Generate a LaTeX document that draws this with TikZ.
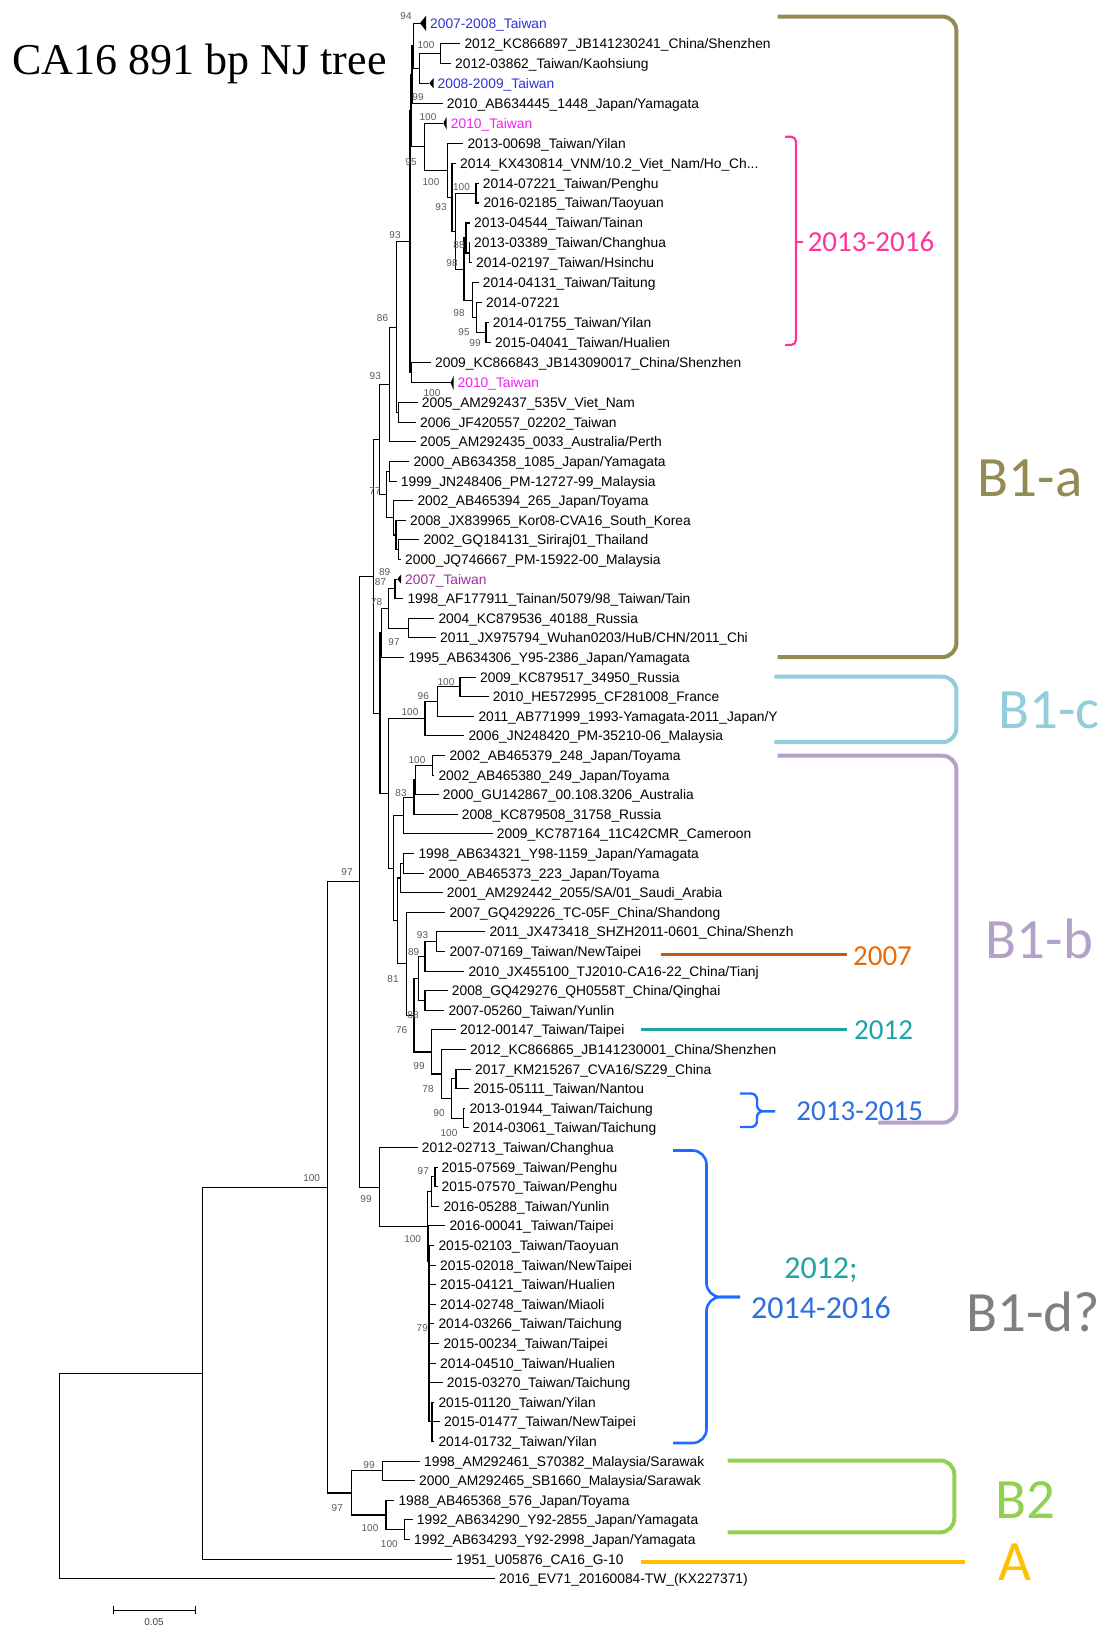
\documentclass[tikz,border=0pt]{standalone}
\usepackage{fontspec}
\setmainfont{Liberation Sans}
\newfontfamily\titlefont{Liberation Serif}
\newfontfamily\cladefont{Carlito}
\usetikzlibrary{calc}

\definecolor{olivebr}{HTML}{948A54}
\definecolor{aquabr}{HTML}{92CDDC}
\definecolor{lilacbr}{HTML}{B3A2C7}
\definecolor{greenbr}{HTML}{92D050}
\definecolor{goldbr}{HTML}{FFC000}
\definecolor{pinkbr}{HTML}{FF3399}
\definecolor{bluebr}{HTML}{1F6BFF}
\definecolor{bluetx}{HTML}{2E6FD8}
\definecolor{tealtx}{HTML}{21A3A3}
\definecolor{rustln}{HTML}{C55A11}
\definecolor{orangetx}{HTML}{E46C0A}
\definecolor{graytx}{HTML}{7F7F7F}
\definecolor{twblue}{HTML}{3030D8}
\definecolor{twmag}{HTML}{F020F0}
\definecolor{twpurp}{HTML}{9A309A}

\begin{document}
\begin{tikzpicture}[x=1pt, y=-1pt,
  leaf/.style={anchor=west, inner xsep=4pt, inner ysep=0pt, text height=9.8pt, text depth=0pt, font=\fontsize{13.8}{14}\selectfont},
  boot/.style={inner sep=0pt, text=black!65, font=\fontsize{10}{10}\selectfont},
  branch/.style={line width=1.1pt, black},
  clade/.style={inner sep=0pt, font=\cladefont\fontsize{57}{57}\selectfont},
  tag/.style={inner sep=0pt, font=\cladefont\fontsize{29}{29}\selectfont},
  bigtag/.style={inner sep=0pt, font=\cladefont\fontsize{32}{32}\selectfont},
  bracket/.style={line width=4pt, rounded corners=14pt},
  marker/.style={line width=2.6pt}
]
\useasboundingbox (0,0) rectangle (1104,1630);

\node[inner sep=0pt, font=\titlefont\fontsize{44}{44}\selectfont] (title) at (199.6,64.4) {CA16 891 bp NJ tree};

% leaves
\node[leaf, text=twblue] (L1) at (426,23.3) {2007-2008\_Taiwan};
\node[leaf] (L2) at (460.3,43.3) {2012\_KC866897\_JB141230241\_China/Shenzhen};
\node[leaf] (L3) at (451,63.3) {2012-03862\_Taiwan/Kaohsiung};
\node[leaf, text=twblue] (L4) at (433.5,83.2) {2008-2009\_Taiwan};
\node[leaf] (L5) at (442.7,103.2) {2010\_AB634445\_1448\_Japan/Yamagata};
\node[leaf, text=twmag] (L6) at (446.7,123.2) {2010\_Taiwan};
\node[leaf] (L7) at (463.3,143.1) {2013-00698\_Taiwan/Yilan};
\node[leaf] (L8) at (456,163.1) {2014\_KX430814\_VNM/10.2\_Viet\_Nam/Ho\_Ch...};
\node[leaf] (L9) at (478.7,183.1) {2014-07221\_Taiwan/Penghu};
\node[leaf] (L10) at (479.3,203.0) {2016-02185\_Taiwan/Taoyuan};
\node[leaf] (L11) at (470,223.0) {2013-04544\_Taiwan/Tainan};
\node[leaf] (L12) at (470,243.0) {2013-03389\_Taiwan/Changhua};
\node[leaf] (L13) at (472,262.9) {2014-02197\_Taiwan/Hsinchu};
\node[leaf] (L14) at (478.7,282.9) {2014-04131\_Taiwan/Taitung};
\node[leaf] (L15) at (482,302.9) {2014-07221};
\node[leaf] (L16) at (488.7,322.9) {2014-01755\_Taiwan/Yilan};
\node[leaf] (L17) at (491,342.8) {2015-04041\_Taiwan/Hualien};
\node[leaf] (L18) at (431,362.8) {2009\_KC866843\_JB143090017\_China/Shenzhen};
\node[leaf, text=twmag] (L19) at (453.5,382.8) {2010\_Taiwan};
\node[leaf] (L20) at (417.7,402.7) {2005\_AM292437\_535V\_Viet\_Nam};
\node[leaf] (L21) at (416,422.3) {2006\_JF420557\_02202\_Taiwan};
\node[leaf] (L22) at (416,441.9) {2005\_AM292435\_0033\_Australia/Perth};
\node[leaf] (L23) at (409.3,461.5) {2000\_AB634358\_1085\_Japan/Yamagata};
\node[leaf] (L24) at (396.7,481.1) {1999\_JN248406\_PM-12727-99\_Malaysia};
\node[leaf] (L25) at (413.3,500.7) {2002\_AB465394\_265\_Japan/Toyama};
\node[leaf] (L26) at (406,520.3) {2008\_JX839965\_Kor08-CVA16\_South\_Korea};
\node[leaf] (L27) at (419.3,539.9) {2002\_GQ184131\_Siriraj01\_Thailand};
\node[leaf] (L28) at (401,559.5) {2000\_JQ746667\_PM-15922-00\_Malaysia};
\node[leaf, text=twpurp] (L29) at (401,579.1) {2007\_Taiwan};
\node[leaf] (L30) at (403.3,598.7) {1998\_AF177911\_Tainan/5079/98\_Taiwan/Tain};
\node[leaf] (L31) at (434.3,618.3) {2004\_KC879536\_40188\_Russia};
\node[leaf] (L32) at (436,637.9) {2011\_JX975794\_Wuhan0203/HuB/CHN/2011\_Chi};
\node[leaf] (L33) at (404.3,657.5) {1995\_AB634306\_Y95-2386\_Japan/Yamagata};
\node[leaf] (L34) at (476,677.1) {2009\_KC879517\_34950\_Russia};
\node[leaf] (L35) at (488.7,696.7) {2010\_HE572995\_CF281008\_France};
\node[leaf] (L36) at (474.3,716.3) {2011\_AB771999\_1993-Yamagata-2011\_Japan/Y};
\node[leaf] (L37) at (464.3,735.9) {2006\_JN248420\_PM-35210-06\_Malaysia};
\node[leaf] (L38) at (445.3,755.5) {2002\_AB465379\_248\_Japan/Toyama};
\node[leaf] (L39) at (434.3,775.1) {2002\_AB465380\_249\_Japan/Toyama};
\node[leaf] (L40) at (438.7,794.7) {2000\_GU142867\_00.108.3206\_Australia};
\node[leaf] (L41) at (457.7,814.3) {2008\_KC879508\_31758\_Russia};
\node[leaf] (L42) at (492.7,833.9) {2009\_KC787164\_11C42CMR\_Cameroon};
\node[leaf] (L43) at (414.3,853.5) {1998\_AB634321\_Y98-1159\_Japan/Yamagata};
\node[leaf] (L44) at (424.3,873.1) {2000\_AB465373\_223\_Japan/Toyama};
\node[leaf] (L45) at (442.7,892.7) {2001\_AM292442\_2055/SA/01\_Saudi\_Arabia};
\node[leaf] (L46) at (445.3,912.3) {2007\_GQ429226\_TC-05F\_China/Shandong};
\node[leaf] (L47) at (485.3,931.9) {2011\_JX473418\_SHZH2011-0601\_China/Shenzh};
\node[leaf] (L48) at (445.3,951.5) {2007-07169\_Taiwan/NewTaipei};
\node[leaf] (L49) at (464.3,971.1) {2010\_JX455100\_TJ2010-CA16-22\_China/Tianj};
\node[leaf] (L50) at (447.7,990.7) {2008\_GQ429276\_QH0558T\_China/Qinghai};
\node[leaf] (L51) at (444.3,1010.3) {2007-05260\_Taiwan/Yunlin};
\node[leaf] (L52) at (456,1029.9) {2012-00147\_Taiwan/Taipei};
\node[leaf] (L53) at (466,1049.5) {2012\_KC866865\_JB141230001\_China/Shenzhen};
\node[leaf] (L54) at (471,1069.1) {2017\_KM215267\_CVA16/SZ29\_China};
\node[leaf] (L55) at (469.3,1088.7) {2015-05111\_Taiwan/Nantou};
\node[leaf] (L56) at (465.3,1108.3) {2013-01944\_Taiwan/Taichung};
\node[leaf] (L57) at (468.7,1127.9) {2014-03061\_Taiwan/Taichung};
\node[leaf] (L58) at (417.7,1147.5) {2012-02713\_Taiwan/Changhua};
\node[leaf] (L59) at (437.5,1167.1) {2015-07569\_Taiwan/Penghu};
\node[leaf] (L60) at (437.5,1186.7) {2015-07570\_Taiwan/Penghu};
\node[leaf] (L61) at (439.3,1206.3) {2016-05288\_Taiwan/Yunlin};
\node[leaf] (L62) at (445.3,1225.9) {2016-00041\_Taiwan/Taipei};
\node[leaf] (L63) at (434.3,1245.5) {2015-02103\_Taiwan/Taoyuan};
\node[leaf] (L64) at (436,1265.1) {2015-02018\_Taiwan/NewTaipei};
\node[leaf] (L65) at (436,1284.7) {2015-04121\_Taiwan/Hualien};
\node[leaf] (L66) at (436,1304.3) {2014-02748\_Taiwan/Miaoli};
\node[leaf] (L67) at (434.3,1323.9) {2014-03266\_Taiwan/Taichung};
\node[leaf] (L68) at (439.3,1343.5) {2015-00234\_Taiwan/Taipei};
\node[leaf] (L69) at (436,1363.1) {2014-04510\_Taiwan/Hualien};
\node[leaf] (L70) at (442.7,1382.7) {2015-03270\_Taiwan/Taichung};
\node[leaf] (L71) at (434.3,1402.3) {2015-01120\_Taiwan/Yilan};
\node[leaf] (L72) at (440,1421.9) {2015-01477\_Taiwan/NewTaipei};
\node[leaf] (L73) at (434.3,1441.5) {2014-01732\_Taiwan/Yilan};
\node[leaf] (L74) at (420,1461.1) {1998\_AM292461\_S70382\_Malaysia/Sarawak};
\node[leaf] (L75) at (415,1480.7) {2000\_AM292465\_SB1660\_Malaysia/Sarawak};
\node[leaf] (L76) at (394.3,1500.3) {1988\_AB465368\_576\_Japan/Toyama};
\node[leaf] (L77) at (412.7,1519.9) {1992\_AB634290\_Y92-2855\_Japan/Yamagata};
\node[leaf] (L78) at (410,1539.5) {1992\_AB634293\_Y92-2998\_Japan/Yamagata};
\node[leaf] (L79) at (452,1559.1) {1951\_U05876\_CA16\_G-10};
\node[leaf] (L80) at (495,1578.7) {2016\_EV71\_20160084-TW\_(KX227371)};

% collapsed clades (apex of triangle)
\coordinate (a1) at (420,23.3);
\coordinate (a4) at (429.3,83.2);
\coordinate (a6) at (443.3,123.2);
\coordinate (a19) at (450.7,382.8);
\coordinate (a29) at (397.3,579.1);
\fill (a1) -- ([yshift=7.5pt]L1.west) -- ([yshift=-7.5pt]L1.west) -- cycle;
\fill (a4) -- ([yshift=5pt]L4.west) -- ([yshift=-5pt]L4.west) -- cycle;
\fill (a6) -- ([yshift=6.5pt]L6.west) -- ([yshift=-6.5pt]L6.west) -- cycle;
\fill (a19) -- ([yshift=7pt]L19.west) -- ([yshift=-7pt]L19.west) -- cycle;
\fill (a29) -- ([yshift=4.5pt]L29.west) -- ([yshift=-4.5pt]L29.west) -- cycle;

% internal nodes
\coordinate (r0) at (59.3,1476);
\coordinate (nA) at (202.7,1373.2);
\coordinate (nB) at (327.4,1187.3);
\coordinate (nC) at (359.5,881.7);
\coordinate (nB1abc) at (373.3,576.4);
\coordinate (Q) at (379.3,439.5);
\coordinate (P93b) at (389.3,384.5);
\coordinate (P86) at (396.5,327.1);
\coordinate (P93a) at (410,241.7);
\coordinate (TC) at (411,110.6);
\coordinate (ub) at (412,74.5);
\coordinate (ua) at (413.5,45.8);
\coordinate (n234) at (419.3,68.3);
\coordinate (n23) at (440.7,53.3);
\coordinate (U2) at (424.3,146.7);
\coordinate (n717) at (447.7,170.1);
\coordinate (n817) at (452,197.1);
\coordinate (n917) at (455.5,231.1);
\coordinate (n910) at (476,193.1);
\coordinate (n1117) at (464,269.2);
\coordinate (n1113) at (466,238);
\coordinate (n1213) at (469.3,253);
\coordinate (n1417) at (472.7,300.4);
\coordinate (n1517) at (476.7,317.9);
\coordinate (n1617) at (486,332.9);
\coordinate (n1819) at (411.7,372.8);
\coordinate (n2021) at (398.5,412.5);
\coordinate (R) at (386.5,494.6);
\coordinate (n2324) at (389.3,471.3);
\coordinate (n2528) at (393.3,517.9);
\coordinate (n2628) at (396,535);
\coordinate (n2728) at (398.5,549.7);
\coordinate (nBbc) at (380,713.2);
\coordinate (n2933) at (381.7,633);
\coordinate (n2932) at (388.3,608.5);
\coordinate (n2930) at (395,588.9);
\coordinate (n3132) at (408.3,628.1);
\coordinate (Nbc) at (388.3,793.5);
\coordinate (nB1c) at (425,718.8);
\coordinate (n3436) at (437.3,701.6);
\coordinate (n3435) at (460,686.9);
\coordinate (nB1b) at (393.3,868.2);
\coordinate (n3842) at (403.3,815.5);
\coordinate (n3841) at (414,797.2);
\coordinate (n3840) at (415.5,780);
\coordinate (n3839) at (432.7,765.3);
\coordinate (nZ) at (397.3,920.9);
\coordinate (n4345) at (400.7,878);
\coordinate (n4344) at (403.3,863.3);
\coordinate (n4657) at (406.7,963.8);
\coordinate (n4757) at (414,1015.2);
\coordinate (n4751) at (418.3,978.5);
\coordinate (n4749) at (425,956.4);
\coordinate (n4748) at (436.7,941.7);
\coordinate (n5051) at (425,1000.5);
\coordinate (n5257) at (431.7,1052);
\coordinate (n5357) at (441.7,1074);
\coordinate (n5457) at (451.7,1098.5);
\coordinate (n5455) at (456,1078.9);
\coordinate (n5657) at (463.3,1118.1);
\coordinate (nB1d) at (379.3,1187.1);
\coordinate (nD2) at (427.3,1226.7);
\coordinate (n5961) at (431.7,1191.6);
\coordinate (n5960) at (435,1176.9);
\coordinate (nD2b) at (428.3,1261.8);
\coordinate (nD3) at (429,1297.7);
\coordinate (n7173) at (432,1421.9);
\coordinate (nB2) at (351.7,1493);
\coordinate (nB2a) at (382.3,1470.9);
\coordinate (nB2b) at (386,1515);
\coordinate (nB2c) at (404.3,1529.7);

% branches
\foreach \p/\c in {r0/nA, r0/L80.west, nA/nB, nA/L79.west, nB/nC, nB/nB2,
  nC/nB1abc, nC/nB1d, nB1abc/Q, nB1abc/nBbc, Q/P93b, Q/R,
  P93b/P86, P93b/L22.west, P86/P93a, P86/n2021, P93a/TC, P93a/n1819,
  TC/ub, TC/U2, ub/ua, ub/L5.west, ua/a1, ua/n234, n234/n23, n234/a4,
  n23/L2.west, n23/L3.west, U2/a6, U2/n717, n717/L7.west, n717/n817,
  n817/L8.west, n817/n917, n917/n910, n917/n1117, n910/L9.west, n910/L10.west,
  n1117/n1113, n1117/n1417, n1113/L11.west, n1113/n1213, n1213/L12.west, n1213/L13.west,
  n1417/L14.west, n1417/n1517, n1517/L15.west, n1517/n1617, n1617/L16.west, n1617/L17.west,
  n1819/L18.west, n1819/a19, n2021/L20.west, n2021/L21.west,
  R/n2324, R/n2528, n2324/L23.west, n2324/L24.west, n2528/L25.west, n2528/n2628,
  n2628/L26.west, n2628/n2728, n2728/L27.west, n2728/L28.west,
  nBbc/n2933, nBbc/Nbc, n2933/n2932, n2933/L33.west, n2932/n2930, n2932/n3132,
  n2930/a29, n2930/L30.west, n3132/L31.west, n3132/L32.west,
  Nbc/nB1c, Nbc/nB1b, nB1c/n3436, nB1c/L37.west, n3436/n3435, n3436/L36.west,
  n3435/L34.west, n3435/L35.west,
  nB1b/n3842, nB1b/nZ, n3842/n3841, n3842/L42.west, n3841/n3840, n3841/L41.west,
  n3840/n3839, n3840/L40.west, n3839/L38.west, n3839/L39.west,
  nZ/n4345, nZ/n4657, n4345/n4344, n4345/L45.west, n4344/L43.west, n4344/L44.west,
  n4657/L46.west, n4657/n4757, n4757/n4751, n4757/n5257, n4751/n4749, n4751/n5051,
  n4749/n4748, n4749/L49.west, n4748/L47.west, n4748/L48.west, n5051/L50.west, n5051/L51.west,
  n5257/L52.west, n5257/n5357, n5357/L53.west, n5357/n5457, n5457/n5455, n5457/n5657,
  n5455/L54.west, n5455/L55.west, n5657/L56.west, n5657/L57.west,
  nB1d/L58.west, nB1d/nD2, nD2/n5961, nD2/nD2b, n5961/n5960, n5961/L61.west,
  n5960/L59.west, n5960/L60.west, nD2b/L62.west, nD2b/nD3,
  nD3/L63.west, nD3/L64.west, nD3/L65.west, nD3/L66.west, nD3/L67.west,
  nD3/L68.west, nD3/L69.west, nD3/L70.west, nD3/n7173,
  n7173/L71.west, n7173/L72.west, n7173/L73.west,
  nB2/nB2a, nB2/nB2b, nB2a/L74.west, nB2a/L75.west, nB2b/L76.west, nB2b/nB2c,
  nB2c/L77.west, nB2c/L78.west}
  \draw[branch] (\p) |- (\c);

% bootstrap values
\node[boot] (bsL1) at (406,16) {94};
\node[boot] (bsn23) at (426,45) {100};
\node[boot] (bsL4) at (418,96.7) {99};
\node[boot] (bsL6) at (428,117.3) {100};
\node[boot] (bsU2) at (411,161.7) {95};
\node[boot] (bsn717) at (431,181.7) {100};
\node[boot] (bsn910) at (461.5,186.7) {100};
\node[boot] (bsn817) at (441,206.7) {93};
\node[boot] (bsn1213) at (459,245) {88};
\node[boot] (bsn1117) at (452,263.3) {98};
\node[boot] (bsn1417) at (459,313.3) {98};
\node[boot] (bsn1517) at (464,331.7) {95};
\node[boot] (bsn1617) at (475,343.3) {99};
\node[boot] (bsP93a) at (395,235) {93};
\node[boot] (bsP86) at (382.5,318) {86};
\node[boot] (bsP93b) at (375.3,376.3) {93};
\node[boot] (bsL19) at (432,392.7) {100};
\node[boot] (bsR) at (375,491) {77};
\node[boot] (bsL29) at (384.6,571.7) {89};
\node[boot] (bsn2930) at (380.5,581.7) {87};
\node[boot] (bsn2932) at (376.5,601.7) {78};
\node[boot] (bsn3132) at (394,641.7) {97};
\node[boot] (bsn3435) at (446,681.7) {100};
\node[boot] (bsn3436) at (423.3,696) {96};
\node[boot] (bsB1c) at (410,711.7) {100};
\node[boot] (bsn3839) at (417,760) {100};
\node[boot] (bsn3841) at (401,793.3) {83};
\node[boot] (bsn4748) at (422.5,935) {93};
\node[boot] (bsn4749) at (413.7,951.7) {89};
\node[boot] (bsn4657) at (393,979.3) {81};
\node[boot] (bsn5051) at (413,1015) {88};
\node[boot] (bsn4757) at (401.7,1030) {76};
\node[boot] (bsn5257) at (419,1066) {99};
\node[boot] (bsn5357) at (428,1089.3) {78};
\node[boot] (bsn5457) at (439,1113.3) {90};
\node[boot] (bsn5657) at (449,1132.7) {100};
\node[boot] (bsn5960) at (423.3,1170.7) {97};
\node[boot] (bsB1d) at (366,1199) {99};
\node[boot] (bsnD2) at (412.7,1239.3) {100};
\node[boot] (bsnD3) at (422.3,1328.3) {79};
\node[boot] (bsnC) at (347,872) {97};
\node[boot] (bsnB) at (311.7,1177.7) {100};
\node[boot] (bsB2a) at (369,1465) {99};
\node[boot] (bsB2) at (337.3,1508.3) {97};
\node[boot] (bsB2b) at (370,1528.3) {100};
\node[boot] (bsB2c) at (389.3,1544) {100};

% scale bar
\coordinate (sbl) at (113.3,1610);
\coordinate (sbr) at (195,1610);
\draw[line width=1pt] (sbl) -- (sbr);
\draw[line width=1pt] ([yshift=4pt]sbl) -- ([yshift=-4pt]sbl);
\draw[line width=1pt] ([yshift=4pt]sbr) -- ([yshift=-4pt]sbr);
\node[boot, text=black!75] (scalelbl) at (154,1622.5) {0.05};

% clade brackets and labels
\draw[bracket, olivebr] (777.5,16.6) -- (956.4,16.6) -- (956.4,657) -- (777.5,657);
\node[clade, text=olivebr] (cladeB1a) at (1030,478) {B1-a};
\draw[bracket, aquabr] (774.4,676.7) -- (956.4,676.7) -- (956.4,742.2) -- (774.4,742.2);
\node[clade, text=aquabr] (cladeB1c) at (1049,710) {B1-c};
\draw[bracket, lilacbr] (777.5,755.7) -- (956.4,755.7) -- (956.4,1122.7) -- (878.4,1122.7);
\node[clade, text=lilacbr] (cladeB1b) at (1039.5,938.7) {B1-b};
\node[clade, text=graytx] (cladeB1d) at (1033,1312) {B1-d?};
\draw[bracket, greenbr] (727.7,1460.5) -- (954.3,1460.5) -- (954.3,1532.3) -- (727.7,1532.3);
\node[clade, text=greenbr] (cladeB2) at (1025,1500) {B2};
\draw[line width=4pt, goldbr] (641.4,1562.4) -- (964.7,1562.4);
\node[clade, text=goldbr] (cladeA) at (1014.6,1562.4) {A};

% year groups
\draw[line width=2.2pt, pinkbr, rounded corners=5pt] (785,136.7) -- (796,136.7) -- (796,345) -- (785,345);
\draw[line width=2.2pt, pinkbr] (796,242.2) -- (803,242.2);
\node[tag, text=pinkbr] (yr1316) at (871,242.2) {2013-2016};
\draw[marker, rustln] (661,954.3) -- (847,954.3);
\node[tag, text=orangetx] (yr07) at (882.5,956.4) {2007};
\draw[marker, tealtx] (641.4,1029.5) -- (847,1029.5);
\node[tag, text=tealtx] (yr12) at (883.6,1030) {2012};
\draw[line width=2.4pt, bluebr, rounded corners=6pt] (740,1093.5) -- (757,1093.5) -- (757,1111.2) -- (775,1111.2);
\draw[line width=2.4pt, bluebr, rounded corners=6pt] (775,1111.2) -- (757,1111.2) -- (757,1127) -- (740,1127);
\node[tag, text=bluetx] (yr1315) at (859.7,1111.2) {2013-2015};
\draw[line width=2.6pt, bluebr, rounded corners=14pt] (673,1150.5) -- (706.5,1150.5) -- (706.5,1297) -- (740,1297);
\draw[line width=2.6pt, bluebr, rounded corners=14pt] (740,1297) -- (706.5,1297) -- (706.5,1443) -- (673,1443);
\node[bigtag, text=tealtx] (yr12b) at (821,1270.3) {2012;};
\node[bigtag, text=bluetx] (yr1416) at (821,1307.7) {2014-2016};

\end{tikzpicture}
\end{document}
